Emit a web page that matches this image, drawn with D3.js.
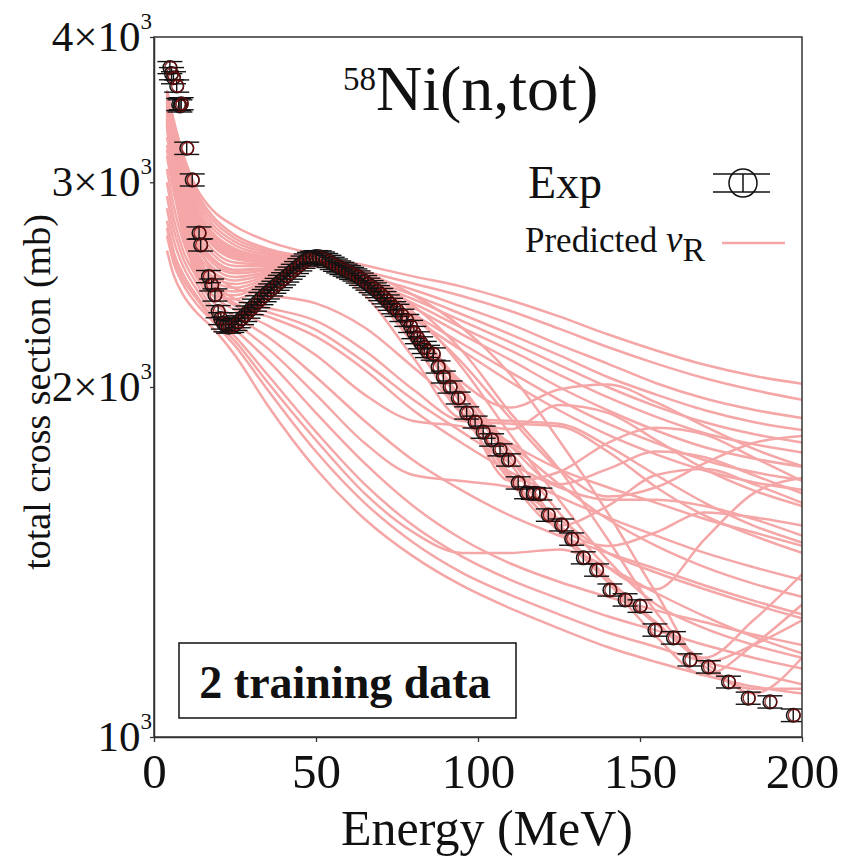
<!DOCTYPE html>
<html><head><meta charset="utf-8">
<script src="https://cdn.jsdelivr.net/npm/d3@7"></script>
<style>
body{margin:0;background:#fff}
svg{display:block}
text{font-family:"Liberation Serif","Times New Roman",serif;fill:#111}
</style>
</head><body>
<svg id="c" width="852" height="857"></svg>
<script>
// ---------- DATA ----------
const xTicks = [0, 50, 100, 150, 200];
const yTicks = [1000, 2000, 3000, 4000];
const yTickLabels = ["10", "2\u00d710", "3\u00d710", "4\u00d710"];

// energies (MeV) at which predicted curves are sampled
const energyGrid = [4, 6, 9, 13, 18, 25, 35, 50, 65, 80, 95, 110, 125, 140, 155, 170, 185, 200];

// predicted nu_R curves (total cross section, mb)
const predU1 = [3600,3400,3170,2970,2840,2750,2670,2600,2545,2490,2440,2375,2300,2220,2150,2090,2045,2013];
const predS2 = [3587,3379,3145,2945,2807,2702,2630,2578,2510,2400,2250,2050,1800,1560,1330,1160,1200,1260];
const predU2 = [3574,3358,3121,2921,2785,2684,2620,2576,2515,2455,2395,2325,2245,2165,2095,2035,1988,1950];
const predS1 = [3560,3337,3096,2896,2762,2666,2610,2574,2500,2350,2150,1900,1700,1480,1280,1150,1100,1100];
const predU3 = [3547,3316,3071,2871,2740,2648,2600,2572,2495,2425,2345,2265,2175,2095,2015,1955,1912,1881];
const predB3 = [3534,3295,3046,2846,2717,2630,2590,2570,2470,2300,2100,1880,1700,1610,1640,1720,1790,1815];
const predB11 = [3525,3285,3035,2835,2705,2620,2585,2568,2440,2200,1900,1840,1930,1900,1800,1700,1630,1580];
const predU4 = [3521,3274,3022,2822,2694,2613,2580,2567,2480,2400,2310,2220,2130,2040,1970,1910,1866,1837];
const predB10 = [3515,3265,3010,2810,2683,2604,2575,2566,2445,2215,1940,1670,1510,1370,1255,1170,1260,1380];
const predB1 = [3508,3253,2997,2797,2672,2595,2570,2565,2450,2250,2020,1920,1990,2010,1940,1850,1770,1710];
const predB9 = [3495,3240,2985,2785,2660,2585,2565,2562,2455,2240,1980,1720,1520,1460,1500,1560,1545,1520];
const predU5 = [3494,3232,2972,2772,2649,2577,2560,2563,2470,2380,2280,2185,2090,2000,1925,1865,1822,1792];
const predB2 = [3481,3211,2947,2747,2626,2559,2550,2561,2440,2220,1930,1660,1690,1790,1845,1820,1740,1660];
const predU6 = [3468,3189,2923,2723,2604,2541,2540,2559,2460,2360,2250,2150,2050,1960,1885,1825,1786,1757];
const predB4 = [3455,3168,2898,2698,2581,2523,2530,2557,2450,2260,2000,1760,1560,1400,1340,1480,1620,1670];
const predB12 = [3450,3160,2890,2690,2575,2518,2528,2558,2450,2240,1990,1780,1650,1700,1760,1740,1680,1620];
const predU7 = [3442,3147,2873,2673,2558,2505,2520,2555,2450,2340,2220,2110,2000,1910,1835,1775,1736,1708];
const predB5 = [3428,3126,2848,2648,2536,2487,2510,2553,2460,2250,2000,1740,1520,1360,1220,1130,1200,1300];
const predU8 = [3415,3105,2824,2624,2513,2470,2500,2551,2440,2310,2180,2060,1950,1860,1790,1730,1690,1664];
const predB6 = [3402,3084,2799,2599,2491,2452,2490,2548,2450,2220,1950,1680,1500,1360,1250,1160,1090,1170];
const predU9 = [3389,3063,2774,2574,2468,2434,2480,2546,2430,2290,2150,2020,1910,1820,1750,1695,1656,1632];
const predB7 = [3376,3042,2749,2549,2445,2416,2470,2544,2430,2180,1900,1660,1520,1580,1680,1700,1650,1590];
const predB8 = [3363,3021,2725,2525,2423,2398,2460,2542,2400,2120,1880,1870,1860,1780,1680,1590,1520,1470];
const predS3 = [3350,3000,2700,2500,2400,2380,2450,2540,2490,2320,2080,1820,1600,1420,1300,1240,1200,1170];
const predL1 = [2620,2500,2400,2320,2250,2130,1930,1700,1540,1430,1350,1290,1240,1195,1160,1130,1105,1090];
const predL2 = [2700,2560,2450,2360,2280,2170,1990,1760,1590,1470,1385,1325,1275,1230,1195,1160,1135,1110];
const predL12 = [2740,2590,2475,2385,2290,2190,2020,1800,1620,1500,1440,1440,1450,1400,1330,1270,1220,1180];
const predL3 = [2780,2620,2500,2400,2300,2210,2050,1830,1650,1520,1430,1365,1315,1270,1235,1200,1170,1145];
const predL4 = [2850,2680,2540,2430,2320,2240,2110,1900,1720,1580,1480,1410,1360,1320,1285,1255,1225,1200];
const predL5 = [2920,2740,2580,2460,2340,2270,2160,1970,1790,1680,1660,1640,1540,1440,1385,1340,1300,1265];
const predL6 = [3000,2800,2620,2490,2370,2300,2210,2040,1870,1730,1630,1550,1490,1440,1395,1350,1310,1275];
const predL7 = [3080,2870,2670,2520,2400,2330,2260,2130,1970,1870,1850,1780,1650,1540,1460,1400,1355,1320];
const predL8 = [3160,2950,2730,2560,2430,2350,2300,2210,2070,1910,1790,1690,1610,1545,1490,1440,1400,1365];
const predL11 = [3200,2990,2760,2585,2450,2360,2320,2240,2100,1950,1830,1720,1640,1600,1600,1580,1540,1490];
const predL9 = [3230,3020,2790,2610,2470,2380,2340,2280,2150,1990,1870,1860,1850,1760,1640,1550,1490,1440];
const predL10 = [3280,3080,2850,2660,2520,2430,2400,2360,2250,2080,1920,1790,1700,1640,1590,1540,1500,1460];

const predicted = [predU1,predS2,predU2,predS1,predU3,predB3,predB11,predU4,predB10,predB1,predB9,predU5,
  predB2,predU6,predB4,predB12,predU7,predB5,predU8,predB6,predU9,predB7,predB8,predS3,
  predL1,predL2,predL12,predL3,predL4,predL5,predL6,predL7,predL8,predL11,predL9,predL10];

// experimental data
const expEnergy = [4.9,5.4,6.0,7.0,7.6,8.0,8.4,10.1,11.8,13.9,14.4,16.8,17.8,18.8,19.8,20.6,21.4,22.2,23.0,
  24,25,26,27,28,29,30,31,32,33,34,35,36,37,38,39,40,41,42,43,44,45,46,47,48,49,50,51,52,53,54,55,56,57,58,59,60,61,62,63,64,65,66,67,68,69,70,71,72,73,74,
  75.0,76.5,78.0,79.2,80.2,81.3,82.3,83.4,84.4,86.2,87.7,89.3,91.4,93.9,96.5,99.1,101.6,104.2,106.8,109.4,112.4,115.0,117.1,119.1,121.7,125.8,128.9,132.5,136.6,140.7,145.4,150.0,154.6,160.3,165.4,171.1,177.3,183.4,190.1,197.3];
const expSigma = [3765,3720,3690,3630,3500,3490,3505,3209,3014,2713,2650,2489,2448,2400,2322,2290,2270,2258,2252,
  2255,2264,2276,2290,2305,2320,2336,2352,2368,2383,2397,2410,2424,2437,2451,2465,2478,2492,2506,2520,2534,2548,2561,2572,2580,2586,2589,2588,2582,2574,2565,2555,2546,2537,2529,2521,2513,2505,2497,2487,2476,2464,2452,2440,2429,2416,2402,2387,2372,2356,2340,
  2328,2305,2282,2255,2228,2205,2183,2163,2146,2135,2081,2040,2000,1957,1900,1866,1829,1801,1766,1731,1654,1622,1620,1618,1552,1522,1480,1426,1392,1338,1312,1296,1236,1217,1165,1149,1115,1080,1072,1044];
const expError = [45,45,44,44,42,42,42,39,36,33,32,30,29,29,28,27,27,27,27,
  27,27,27,27,28,28,28,28,28,29,29,29,29,29,29,30,30,30,30,30,30,31,31,31,31,31,31,31,31,31,31,31,31,30,30,30,30,30,30,30,30,30,29,29,29,29,29,29,28,28,28,
  28,28,27,27,27,26,26,26,26,26,25,24,24,23,23,22,22,22,21,21,20,19,19,19,19,18,18,17,17,16,16,16,15,15,14,14,13,13,13,13];

// ---------- CHART ----------
const svg = d3.select("#c");
const x = d3.scaleLinear().domain([0, 200]).range([154, 802]);
const y = d3.scaleLog().domain([1000, 4000]).range([737, 37]);

svg.append("defs").append("clipPath").attr("id", "clip")
  .append("rect").attr("x", 154).attr("y", 37).attr("width", 648).attr("height", 700);

const pink = "#f5a6a6";
const line = d3.line()
  .x((d, i) => x(energyGrid[i]))
  .y(d => y(d))
  .curve(d3.curveMonotoneX);

svg.append("g").attr("clip-path", "url(#clip)")
  .selectAll("path").data(predicted).join("path")
  .attr("d", line).attr("fill", "none")
  .attr("stroke", pink).attr("stroke-width", 2.5);

// experimental points
const exp = expEnergy.map((e, i) => ({e, s: expSigma[i], err: expError[i]}));
const gp = svg.append("g").attr("clip-path", "url(#clip)");
const pts = gp.selectAll("g").data(exp).join("g");
pts.append("line")
  .attr("x1", d => x(d.e)).attr("x2", d => x(d.e))
  .attr("y1", d => y(d.s + d.err)).attr("y2", d => y(d.s - d.err))
  .attr("stroke", "#111").attr("stroke-width", 1.4);
pts.append("line")
  .attr("x1", d => x(d.e) - 12.5).attr("x2", d => x(d.e) + 12.5)
  .attr("y1", d => y(d.s + d.err)).attr("y2", d => y(d.s + d.err))
  .attr("stroke", "#111").attr("stroke-width", 1.4);
pts.append("line")
  .attr("x1", d => x(d.e) - 12.5).attr("x2", d => x(d.e) + 12.5)
  .attr("y1", d => y(d.s - d.err)).attr("y2", d => y(d.s - d.err))
  .attr("stroke", "#111").attr("stroke-width", 1.4);
pts.append("circle")
  .attr("cx", d => x(d.e)).attr("cy", d => y(d.s)).attr("r", 6.8)
  .attr("fill", "none").attr("stroke", "#151515").attr("stroke-width", 1.5);
pts.append("circle")
  .attr("cx", d => x(d.e) + 1).attr("cy", d => y(d.s)).attr("r", 6)
  .attr("fill", "none").attr("stroke", "#7a0a0a").attr("stroke-width", 1.3).attr("opacity", 0.85);

// axes
const xAxis = svg.append("g").attr("transform", "translate(0,737)")
  .call(d3.axisBottom(x).tickValues(xTicks).tickSize(5).tickSizeOuter(0).tickPadding(11));
xAxis.selectAll("text").attr("font-size", 49).attr("font-family", "Liberation Serif").attr("fill", "#111").attr("dy", "0.71em");
const yAxis = svg.append("g").attr("transform", "translate(154,0)")
  .call(d3.axisLeft(y).tickValues(yTicks).tickSize(4).tickSizeOuter(0));
yAxis.selectAll(".tick text").each(function(d) {
  const t = d3.select(this);
  t.text(null).attr("x", -2).attr("dy", null).attr("y", 13)
    .attr("font-size", 43).attr("font-family", "Liberation Serif").attr("fill", "#111");
  t.append("tspan").text(yTickLabels[yTicks.indexOf(d)]);
  t.append("tspan").attr("font-size", 23).attr("dy", -22).text("3");
});
svg.selectAll(".domain").attr("stroke", "#333").attr("stroke-width", 1.5);
svg.selectAll(".tick line").attr("stroke", "#333").attr("stroke-width", 1.3);

// frame
svg.append("rect").attr("x", 154).attr("y", 37).attr("width", 648).attr("height", 700)
  .attr("fill", "none").attr("stroke", "#333").attr("stroke-width", 1.5);

// axis titles
svg.append("text").attr("x", 487).attr("y", 845).attr("text-anchor", "middle")
  .attr("font-size", 50).text("Energy (MeV)");
svg.append("text").attr("transform", "translate(50,392) rotate(-90)").attr("text-anchor", "middle")
  .attr("font-size", 38).text("total cross section (mb)");

// title
const title = svg.append("text").attr("x", 343).attr("y", 110);
title.append("tspan").attr("font-size", 33).attr("dy", -20).text("58");
title.append("tspan").attr("font-size", 64).attr("dy", 20).text("Ni(n,tot)");

// legend
svg.append("text").attr("x", 528).attr("y", 198).attr("font-size", 46).text("Exp");
const lg = svg.append("g");
lg.append("line").attr("x1", 713).attr("x2", 770).attr("y1", 174).attr("y2", 174).attr("stroke", "#111").attr("stroke-width", 1.5);
lg.append("line").attr("x1", 713).attr("x2", 770).attr("y1", 192).attr("y2", 192).attr("stroke", "#111").attr("stroke-width", 1.5);
lg.append("line").attr("x1", 743).attr("x2", 743).attr("y1", 174).attr("y2", 192).attr("stroke", "#111").attr("stroke-width", 1.5);
lg.append("circle").attr("cx", 743).attr("cy", 183).attr("r", 14).attr("fill", "none").attr("stroke", "#111").attr("stroke-width", 1.5);
const lt = svg.append("text").attr("x", 525).attr("y", 252).attr("font-size", 35);
lt.append("tspan").text("Predicted ");
lt.append("tspan").attr("font-style", "italic").attr("font-size", 37).text("\u03bd");
lt.append("tspan").attr("font-size", 34).attr("dy", 9).text("R");
svg.append("line").attr("x1", 722).attr("x2", 785).attr("y1", 243).attr("y2", 243)
  .attr("stroke", pink).attr("stroke-width", 2.5);

// annotation box
svg.append("rect").attr("x", 179).attr("y", 643).attr("width", 337).attr("height", 75)
  .attr("fill", "#fff").attr("stroke", "#111").attr("stroke-width", 1.5);
svg.append("text").attr("x", 345).attr("y", 698).attr("text-anchor", "middle")
  .attr("font-size", 46).attr("font-weight", "bold").text("2 training data");
</script>
</body></html>
